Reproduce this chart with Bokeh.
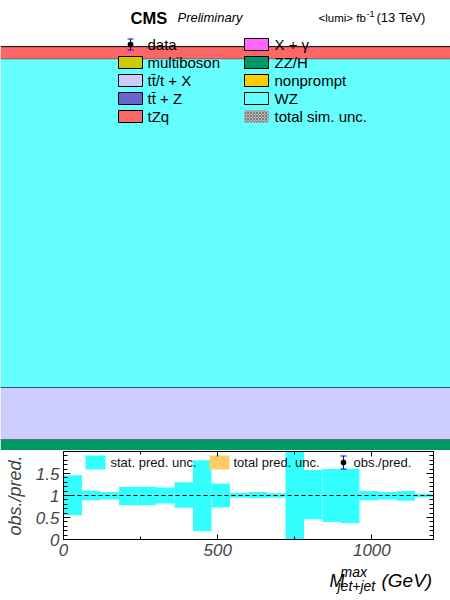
import numpy as np
from bokeh.plotting import figure
from bokeh.models import Range1d, LinearAxis, FixedTicker, Label, Span
from bokeh.layouts import column
from bokeh.embed import file_html
from bokeh.resources import INLINE
from bokeh.core.properties import value

FONT = "Liberation Sans"

# ---------------- data ----------------
# stacked prediction in the visible window of the upper panel (bottom -> top)
stack_names = ["ZZ/H", "tt\u0304/t + X", "tt\u0304 + Z", "multiboson", "X + \u03b3", "nonprompt", "WZ", "tZq"]
stack_values = [2.45, 11.58, 0.0, 0.0, 0.0, 0.0, 73.05, 2.67]
stack_colors = ["#009966", "#ccccff", "#6666cc", "#cccc00", "#ff66ff", "#ffcc00", "#66ffff", "#ff6666"]
stack_bin_lo = [0.0]
stack_bin_hi = [1200.0]

# ratio panel: statistical prediction uncertainty band per bin (GeV)
bin_edges = [0, 60, 120, 180, 240, 300, 360, 420, 480, 540, 600,
             660, 720, 780, 840, 900, 960, 1020, 1080, 1140, 1200]
ratio_up = [1.46, 1.11, 1.08, 1.20, 1.20, 1.18, 1.30, 1.80, 1.27, 1.06,
            1.08, 1.05, 2.50, 1.58, 1.60, 1.61, 1.10, 1.08, 1.10, 1.04]
ratio_dn = [0.55, 0.89, 0.91, 0.78, 0.78, 0.82, 0.72, 0.19, 0.73, 0.95,
            0.94, 0.95, 0.00, 0.46, 0.40, 0.37, 0.89, 0.91, 0.88, 0.96]

x_ticks = [0, 500, 1000]
x_minor = [250, 750]
y_ticks = [0, 0.5, 1, 1.5]
y_tick_labels = ["0", "0.5", "1", "1.5"]
y_minor = [0.1, 0.2, 0.3, 0.4, 0.6, 0.7, 0.8, 0.9, 1.1, 1.2, 1.3, 1.4, 1.6, 1.7, 1.8, 1.9]

legend_col1 = ["data", "multiboson", "tt\u0304/t + X", "tt\u0304 + Z", "tZq"]
legend_col1_colors = [None, "#cccc00", "#ccccff", "#6666cc", "#ff6666"]
legend_col2 = ["X + \u03b3", "ZZ/H", "nonprompt", "WZ", "total sim. unc."]
legend_col2_colors = ["#ff66ff", "#009966", "#ffcc00", "#66ffff", "hatch"]

ratio_legend = ["stat. pred. unc.", "total pred. unc.", "obs./pred."]
ratio_legend_colors = ["#33ffff", "#ffcc66", None]

# ---------------- upper panel ----------------
top = figure(width=450, height=450, x_range=Range1d(0, 1200), y_range=Range1d(0, 100),
             output_backend="svg", toolbar_location=None, min_border=0,
             x_axis_location=None, y_axis_location=None, outline_line_color=None,
             frame_align=False)
top.grid.visible = False
top.extra_x_ranges = {"px": Range1d(0, 450)}
top.extra_y_ranges = {"py": Range1d(450, 0)}

vals = np.array(stack_values)
tops = np.cumsum(vals)
bots = tops - vals
for v, b, t, c in zip(stack_values, bots, tops, stack_colors):
    if v <= 0:
        continue
    top.quad(left=stack_bin_lo, right=stack_bin_hi, bottom=[b], top=[t],
             fill_color=c, line_color=None)
    top.segment(x0=stack_bin_lo, x1=stack_bin_hi, y0=[t], y1=[t], line_color="black", line_width=1)

# legend (two columns)
row_y0, row_dy = 44, 18
def draw_legend_col(labels, colors, box_x, text_x):
    for i, (lab, col) in enumerate(zip(labels, colors)):
        y = row_y0 + i * row_dy
        if col is None:
            top.segment(x0=[box_x], x1=[box_x], y0=[y - 5.5], y1=[y + 5.5],
                        line_color="#0000cc", line_width=1, x_range_name="px", y_range_name="py")
            top.segment(x0=[box_x - 3, box_x - 3], x1=[box_x + 3, box_x + 3], y0=[y - 5.5, y + 5.5],
                        y1=[y - 5.5, y + 5.5], line_color="#0000cc", line_width=1,
                        x_range_name="px", y_range_name="py")
            top.scatter(x=[box_x], y=[y], size=5, color="black", x_range_name="px", y_range_name="py")
        elif col == "hatch":
            top.rect(x=[box_x], y=[y], width=24, height=12, fill_color="#bdbdbd",
                     hatch_pattern="diagonal_cross", hatch_color="#7a7a7a", hatch_scale=3,
                     hatch_weight=1, line_color=None, x_range_name="px", y_range_name="py")
        else:
            top.rect(x=[box_x], y=[y], width=24, height=12, fill_color=col, line_color="black",
                     line_width=1, x_range_name="px", y_range_name="py")
        top.text(x=[text_x], y=[y], text=[lab], text_font=value(FONT), text_font_size="15px",
                 text_baseline="middle", text_align="left", text_color="black",
                 x_range_name="px", y_range_name="py")

draw_legend_col(legend_col1, legend_col1_colors, 130, 147)
draw_legend_col(legend_col2, legend_col2_colors, 256, 274)

def lab(fig, x, y, text, size, style="normal"):
    fig.add_layout(Label(x=x, y=y, text=text, text_font=FONT, text_font_size=size,
                         text_font_style=style, text_baseline="alphabetic",
                         x_range_name="px", y_range_name="py", text_color="black"))

lab(top, 130, 17, "CMS", "16.5px", "bold")
lab(top, 177, 17, "Preliminary", "13px", "italic")
lab(top, 318, 17, "<lumi> fb", "11.5px")
lab(top, 366, 13, "-1", "9px")
lab(top, 376, 17, "(13 TeV)", "13px")

# ---------------- ratio panel ----------------
rat = figure(width=450, height=115, x_range=Range1d(0, 1200), y_range=Range1d(0, 2),
             output_backend="svg", toolbar_location=None,
             min_border_left=63, min_border_right=17, min_border_top=1, min_border_bottom=26,
             x_axis_location=None, y_axis_location=None,
             outline_line_color="black", outline_line_width=1, frame_align=False)
rat.grid.visible = False
rat.extra_x_ranges = {"px": Range1d(63, 433)}
rat.extra_y_ranges = {"py": Range1d(539, 451)}

rat.quad(left=bin_edges[:-1], right=bin_edges[1:], bottom=ratio_dn, top=ratio_up,
         fill_color="#33ffff", line_color=None)
rat.add_layout(Span(location=1, dimension="width", line_color="black", line_width=1, line_dash="4 3"))

def mk_axis(ticks, minor, tin, mtin, show_labels, overrides=None):
    ax = LinearAxis(ticker=FixedTicker(ticks=ticks, minor_ticks=minor))
    ax.major_tick_in = tin
    ax.major_tick_out = 0
    ax.minor_tick_in = mtin
    ax.minor_tick_out = 0
    ax.axis_line_color = "black"
    ax.major_tick_line_color = "black"
    ax.minor_tick_line_color = "black"
    ax.major_label_text_font = FONT
    ax.major_label_text_font_style = "italic"
    if show_labels:
        ax.major_label_text_font_size = "17px"
        ax.major_label_standoff = 4
    else:
        ax.major_label_text_font_size = "0px"
        ax.major_label_text_color = None
        ax.major_label_standoff = 0
    if overrides:
        ax.major_label_overrides = overrides
    return ax

xb = mk_axis(x_ticks, x_minor, 5, 3, True)
xt = mk_axis(x_ticks, x_minor, 5, 3, False)
yl = mk_axis(y_ticks, y_minor, 7, 4, True, {t: s for t, s in zip(y_ticks, y_tick_labels)})
yr = mk_axis(y_ticks, y_minor, 7, 4, False)
yl.axis_label = "obs./pred."
yl.axis_label_text_font = FONT
yl.axis_label_text_font_style = "italic"
yl.axis_label_text_font_size = "18px"
yl.axis_label_standoff = 8
rat.add_layout(xb, "below")
rat.add_layout(xt, "above")
rat.add_layout(yl, "left")
rat.add_layout(yr, "right")

# ratio legend (one row)
leg_x = [95, 219, 343]
leg_text_x = [110, 233, 353]
leg_y = 462
for lx, tx, name, col in zip(leg_x, leg_text_x, ratio_legend, ratio_legend_colors):
    if col is None:
        rat.segment(x0=[lx], x1=[lx], y0=[leg_y - 6.5], y1=[leg_y + 6.5], line_color="#0000cc",
                    x_range_name="px", y_range_name="py")
        rat.segment(x0=[lx - 3, lx - 3], x1=[lx + 3, lx + 3], y0=[leg_y - 6.5, leg_y + 6.5],
                    y1=[leg_y - 6.5, leg_y + 6.5], line_color="#0000cc",
                    x_range_name="px", y_range_name="py")
        rat.scatter(x=[lx], y=[leg_y], size=5, color="black", x_range_name="px", y_range_name="py")
    else:
        rat.rect(x=[lx], y=[leg_y], width=20, height=14, fill_color=col, line_color=None,
                 x_range_name="px", y_range_name="py")
    rat.text(x=[tx], y=[leg_y], text=[name], text_font=value(FONT), text_font_size="13px",
             text_baseline="middle", text_color="#111111", x_range_name="px", y_range_name="py")

# ---------------- x-axis title strip:  M^{max}_{jet+jet} (GeV) ----------------
xt_fig = figure(width=450, height=35, x_range=Range1d(0, 450), y_range=Range1d(600, 565),
                output_backend="svg", toolbar_location=None, min_border=0,
                x_axis_location=None, y_axis_location=None, outline_line_color=None,
                frame_align=False)
xt_fig.grid.visible = False
title_parts = ["M", "max", "jet+jet", "(GeV)"]
title_x = [329, 340, 337, 381]
title_y = [580, 571, 585, 580]
title_size = ["18px", "14px", "14px", "19px"]
for t, x, y, s in zip(title_parts, title_x, title_y, title_size):
    xt_fig.text(x=[x], y=[y], text=[t], text_font=value(FONT), text_font_size=s,
                text_font_style="italic", text_baseline="alphabetic", text_color="black")

layout = column(top, rat, xt_fig, spacing=0)
open("out.html", "w").write(file_html(layout, INLINE))
